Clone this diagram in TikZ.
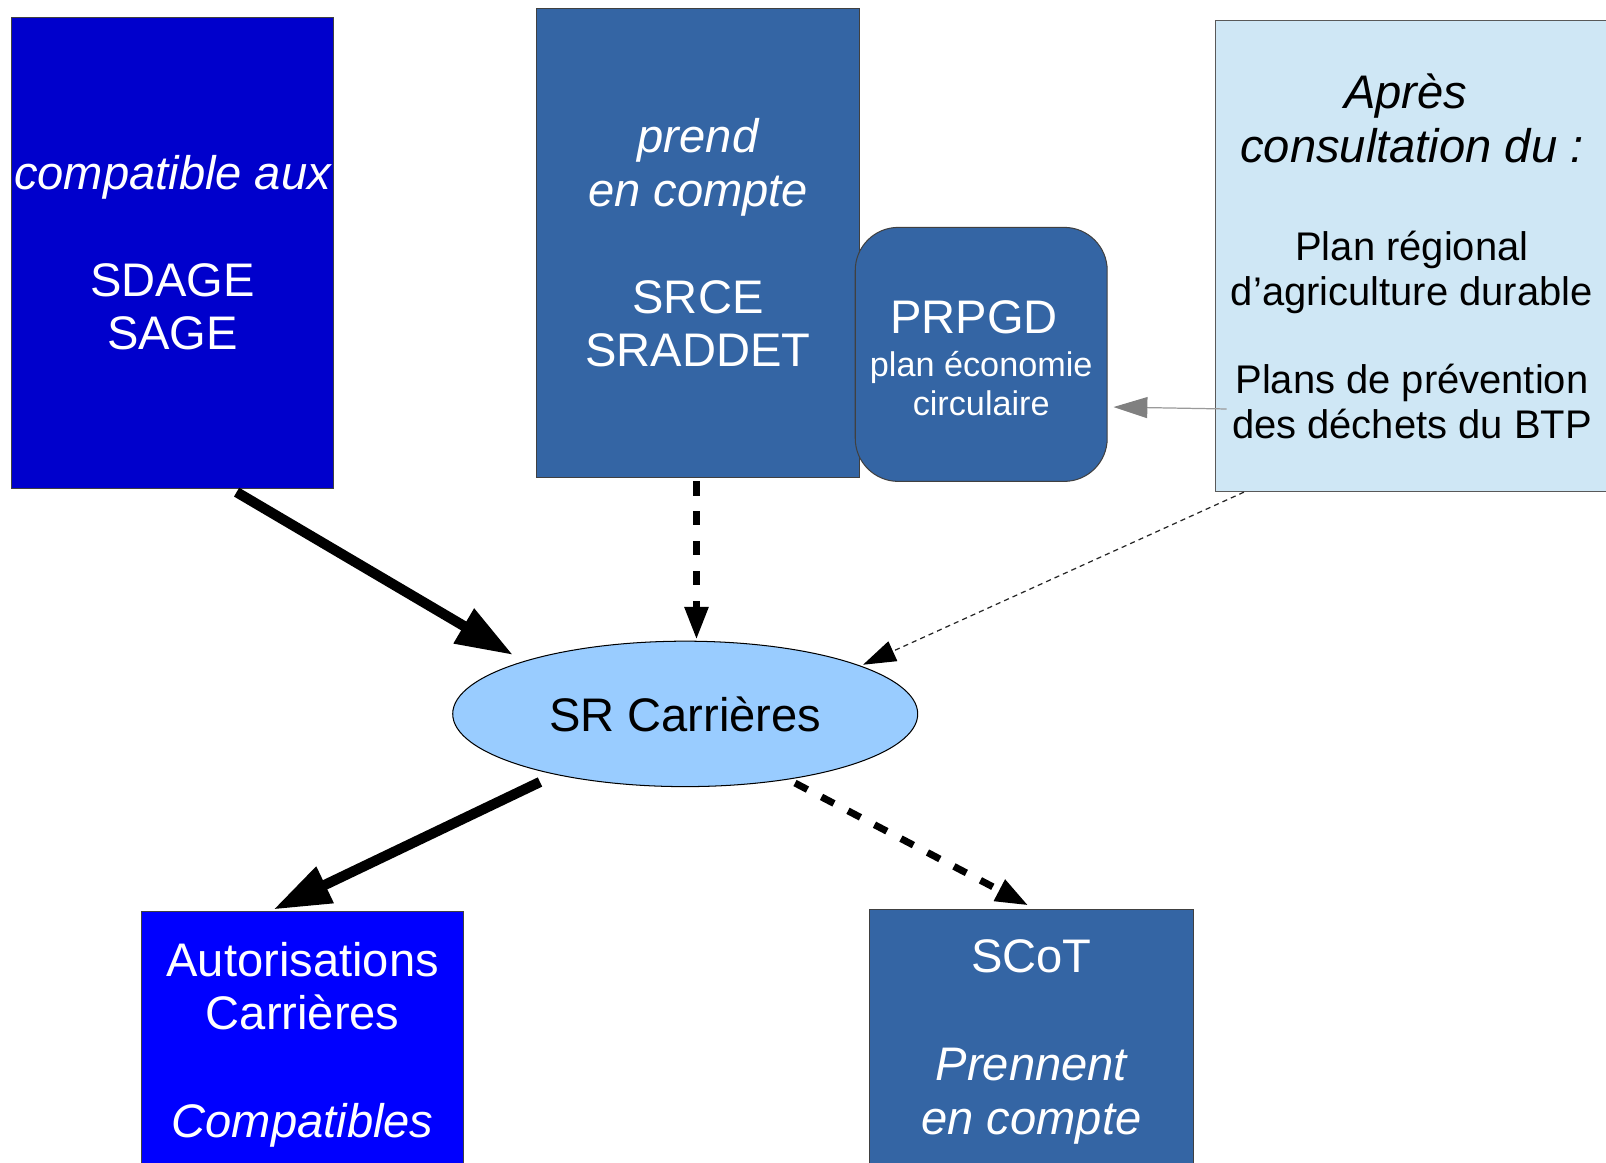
\documentclass[tikz,border=0pt]{standalone}
\usepackage{fontspec}
\setmainfont{Liberation Sans}
\usetikzlibrary{arrows.meta,shapes.geometric}

\newcommand\FBig{\fontsize{46}{52}\selectfont}
\newcommand\FSmall{\fontsize{33.4}{37.5}\selectfont}
\newcommand\FMed{\fontsize{39}{43.5}\selectfont}

\definecolor{sdageblue}{HTML}{0000CC}
\definecolor{midblue}{HTML}{3465A4}
\definecolor{paleblue}{HTML}{CFE7F5}
\definecolor{ellblue}{HTML}{99CCFF}
\definecolor{autoblue}{HTML}{0000FF}
\definecolor{linegray}{HTML}{9A9A9A}
\definecolor{headgray}{HTML}{808080}

\begin{document}
\begin{tikzpicture}[x=1pt,y=-1pt,
  box/.style={draw=black!75, line width=1pt, inner sep=0pt, align=center, font=\FBig, text=white},
  bigarrow/.style={line width=10pt, -{Triangle[length=56pt,width=37pt]}},
  dasharrow/.style={line width=6.8pt, dash pattern=on 13.7pt off 15.5pt, -{Triangle[length=32pt,width=22pt]}},
  thinarrow/.style={line width=1.2pt, black!85, dash pattern=on 5pt off 4pt, -{Triangle[length=32pt,width=21pt,color=black]}},
  grayarrow/.style={line width=1.2pt, linegray, -{Triangle[length=33pt,width=20.5pt,color=headgray]}}
]
\useasboundingbox (0,0) rectangle (1568,1135);

% top boxes
\node[box, fill=sdageblue, minimum width=315pt, minimum height=460pt] (sdage) at (168.5,247)
  {\itshape compatible aux\\[52.5pt]SDAGE\\SAGE};

\node[box, fill=midblue, minimum width=315pt, minimum height=458pt] (srce) at (681.5,237)
  {\itshape prend\\\itshape en compte\\[52.5pt]SRCE\\SRADDET};

\node[box, fill=midblue, rounded corners=42pt, font=\FSmall, minimum width=246pt, minimum height=248pt] (prpgd) at (958,346)
  {\rule{0pt}{39pt}\FBig PRPGD\hspace*{14pt}\\[5pt]plan économie\hspace*{10pt}\\circulaire};

\node[box, fill=paleblue, draw=black!65, text=black, font=\FMed, minimum width=383pt, minimum height=460pt] (apres) at (1378.5,250)
  {\FBig\itshape Après\hspace*{12pt}\\[9.5pt]\FBig\itshape consultation du :\\[52.5pt]Plan régional\hspace*{12pt}\\d’agriculture durable\\[42.5pt]Plans de prévention\hspace*{12pt}\\des déchets du BTP};

% central ellipse
\node[ellipse, draw=black, line width=1pt, fill=ellblue, inner sep=0pt, minimum width=454pt, minimum height=142pt, font=\FBig] (sr) at (669,697) {SR Carrières};

% bottom boxes
\node[box, fill=autoblue, minimum width=315pt, minimum height=260pt] (auto) at (295.5,1020)
  {Autorisations\\Carrières\\[53pt]\itshape Compatibles};

\node[box, fill=midblue, minimum width=316pt, minimum height=259pt] (scot) at (1007,1017)
  {SCoT\\[53.8pt]\itshape Prennent\\\itshape en compte};

% connectors
\draw[bigarrow] ([xshift=62.5pt,yshift=-3pt]sdage.south) -- ([xshift=-168pt,yshift=57.5pt]sr.center);
\draw[dasharrow] ([xshift=-1.5pt,yshift=-3.6pt]srce.south) -- ([xshift=11pt,yshift=1pt]sr.north);
\draw[thinarrow] ([xshift=28pt]apres.south west) -- ([xshift=173.6pt,yshift=48pt]sr.center);
\draw[grayarrow] ([xshift=11pt,yshift=-149.3pt]apres.west) -- ([xshift=5.7pt,yshift=-51.4pt]prpgd.east);
\draw[bigarrow] ([xshift=-141.8pt,yshift=-66.5pt]sr.center) -- ([xshift=-28.6pt,yshift=1.5pt]auto.north);
\draw[dasharrow] ([xshift=107.2pt,yshift=-67.5pt]sr.center) -- ([xshift=-3pt,yshift=3pt]scot.north);
\end{tikzpicture}
\end{document}
